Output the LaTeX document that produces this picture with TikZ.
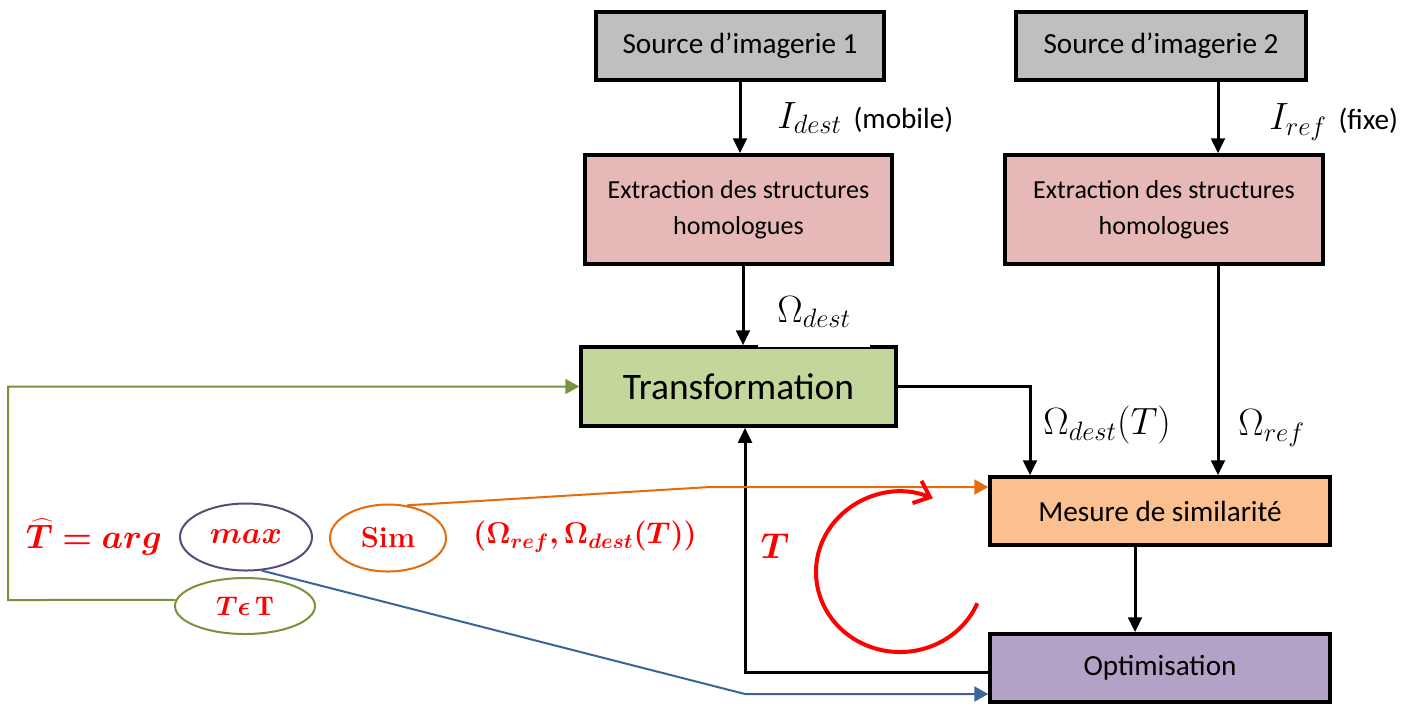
\RequirePackage{fix-cm}
\documentclass[tikz,border=0pt]{standalone}
\usepackage{fontspec}
\usepackage{bm}
\newfontfamily\calibri{Carlito}
\usetikzlibrary{arrows.meta,calc,shapes.geometric}
\definecolor{grayfill}{HTML}{BFBFBF}
\definecolor{pinkfill}{HTML}{E6B9B8}
\definecolor{greenfill}{HTML}{C3D69B}
\definecolor{orangefill}{HTML}{FAC090}
\definecolor{purplefill}{HTML}{B3A2C7}
\definecolor{greenln}{HTML}{77933C}
\definecolor{orangeln}{HTML}{E46C0A}
\definecolor{blueln}{HTML}{3B6598}
\definecolor{purpleln}{HTML}{5F497A}
\definecolor{redtx}{HTML}{FF0000}
\begin{document}
\begin{tikzpicture}[x=0.5pt,y=-0.5pt,
  box/.style={draw=black, line width=1.75pt, align=center, inner sep=0pt,
    font=\calibri\fontsize{14.6}{17}\selectfont},
  arr/.style={line width=1.5pt, -{Triangle[length=7.5pt,width=6.8pt]}},
  thin/.style={line width=1pt, -{Triangle[length=7pt,width=7.5pt]}},
  ell/.style={ellipse, draw, line width=1pt, inner sep=0pt},
  lab/.style={inner sep=0pt, font=\fontsize{19}{22}\selectfont},
  redtxt/.style={inner sep=0pt, text=redtx}
]
\path[fill=white,use as bounding box] (0,0) rectangle (1418,709);

% boxes
\node[box, fill=grayfill, minimum width=144pt, minimum height=34pt] (src1) at (740,46) {Source d’imagerie 1};
\node[box, fill=grayfill, minimum width=145pt, minimum height=34pt] (src2) at (1161,46) {Source d’imagerie 2};
\node[box, fill=pinkfill, minimum width=153.5pt, minimum height=54.5pt,
  font=\calibri\fontsize{13}{18}\selectfont] (ext1) at (738.5,209.5) {Extraction des structures\\homologues};
\node[box, fill=pinkfill, minimum width=159pt, minimum height=54.5pt,
  font=\calibri\fontsize{13}{18}\selectfont] (ext2) at (1164,209.5) {Extraction des structures\\homologues};
\node[box, fill=greenfill, minimum width=157.5pt, minimum height=39.5pt,
  font=\calibri\fontsize{18.7}{22}\selectfont] (trans) at (738.5,386.5) {Transformation};
\node[box, fill=orangefill, minimum width=170pt, minimum height=34pt] (mes) at (1160,511) {Mesure de similarité};
\node[box, fill=purplefill, minimum width=170pt, minimum height=34pt] (opt) at (1160,668) {Optimisation};

% thinner part of the top border of Transformation
\fill[white] (758,343.8) rectangle (870,346.6);

% black connectors
\coordinate (x2) at (1218,0);
\coordinate (t1) at (1030,0);
\coordinate (x3) at (1135,0);
\coordinate (x4) at (745,672);
\path ($(ext1.south)+(4.5,0)$) coordinate (e1a);
\draw[arr] (src1.south) -- (src1.south |- ext1.north);
\draw[arr] (x2 |- src2.south) -- (x2 |- ext2.north);
\draw[arr] (e1a) -- (e1a |- trans.north);
\draw[arr] (trans.east) -| (t1 |- mes.north);
\draw[arr] (x2 |- ext2.south) -- (x2 |- mes.north);
\draw[arr] (x3 |- mes.south) -- (x3 |- opt.north);
\draw[arr] (x4 -| opt.west) -- (x4) -- (x4 |- trans.south);

% labels
\node[lab, anchor=west] (lid) at (777,118) {$I_{dest}$ {\calibri\fontsize{14.6}{17}\selectfont (mobile)}};
\node[lab, anchor=west] (lir) at (1269,122) {$I_{ref}$ {\calibri\fontsize{14.6}{17}\selectfont (fixe)}};
\node[lab, anchor=west] (lod) at (777,312) {$\Omega_{dest}$};
\node[lab, anchor=west] (lodt) at (1043,425) {$\Omega_{dest}(T)$};
\node[lab, anchor=west] (lor) at (1238,428) {$\Omega_{ref}$};
\node[redtxt, font=\fontsize{18}{20}\selectfont] (lt) at (775,546) {$\bm{T}$};

% left formula
\node[redtxt, font=\fontsize{17}{20}\selectfont] (that) at (94,537) {$\bm{\widehat{T}=arg}$};
\node[ell, draw=purpleln, minimum width=66pt, minimum height=33.5pt, text=redtx,
  font=\fontsize{15.5}{18}\selectfont] (max) at (246,537) {$\bm{max}$};
\node[ell, draw=orangeln, minimum width=58pt, minimum height=33.5pt, text=redtx,
  font=\fontsize{14.5}{17}\selectfont] (sim) at (388,538) {\textbf{Sim}};
\node[ell, draw=greenln, minimum width=70pt, minimum height=28pt, text=redtx,
  font=\fontsize{13.5}{16}\selectfont] (tet) at (245,606) {$\bm{T\epsilon}\,\mathbf{T}$};
\node[redtxt, font=\fontsize{15}{18}\selectfont] (args) at (585,537) {$\bm{(\Omega_{ref},\Omega_{dest}(T))}$};

% colored connectors
\coordinate (g1) at (8,600);
\coordinate (g2) at (8,386.5);
\draw[thin, draw=greenln] (tet.175) -- (g1) -- (g2) -- (trans.west);
\coordinate (o1) at (710,487);
\draw[thin, draw=orangeln] (sim.60) -- (o1) -- (o1 -| mes.west);
\coordinate (b1) at (745,694);
\draw[thin, draw=blueln] (max.-65) -- (b1) -- (b1 -| opt.west);

% red loop arrow
\coordinate (c) at (900,572);
\draw[redtx, line width=2pt, -{Straight Barb[length=7pt,width=12pt]}]
  ([shift={(-23:42pt and 40pt)}]c) arc[start angle=-23, end angle=-293, x radius=42pt, y radius=40pt];
\end{tikzpicture}
\end{document}
